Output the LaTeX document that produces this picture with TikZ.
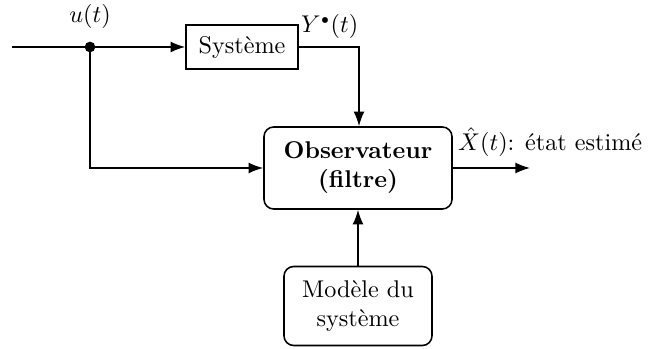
\documentclass[tikz,border=0pt]{standalone}
\usetikzlibrary{arrows.meta}
\begin{document}
\begin{tikzpicture}[x=0.4133pt,y=-0.4133pt,
  line width=0.65pt,
  arr/.style={-{Latex[length=6pt,width=4.5pt]}},
  sqbox/.style={draw,rectangle,inner sep=0pt,font=\normalsize},
  rbox/.style={draw,rectangle,rounded corners=4pt,inner sep=0pt,align=center}]
\useasboundingbox (0,0) rectangle (649,349);
\node[sqbox,minimum width=112*0.4133pt,minimum height=44*0.4133pt] (sys) at (242,47) {Système};
\node[rbox,minimum width=188*0.4133pt,minimum height=82*0.4133pt,font=\bfseries] (obs) at (358,168) {Observateur\\(filtre)};
\node[rbox,minimum width=148*0.4133pt,minimum height=79*0.4133pt] (mod) at (358,306) {Modèle du\\système};
\coordinate (in) at (12,47);
\coordinate (dot) at (90,47);
\coordinate (yc) at (359,47);
\coordinate (out) at (530,168);
\fill (dot) circle (2.2pt);
\node[anchor=south] (ul) at (90,37) {$u(t)$};
\node[anchor=south west,inner sep=1pt] (yl) at (298,42) {$Y^{\scriptscriptstyle\bullet}(t)$};
\node[anchor=south west,inner sep=1pt] (xl) at (455,160) {$\hat{X}(t)$: état estimé};
\draw (in) -- (dot);
\draw[arr] (dot) -- (sys.west);
\draw[arr] (sys.east) -- (yc) -- (obs.north -| yc);
\draw[arr] (dot) |- (obs.west);
\draw[arr] (obs.east) -- (out);
\draw[arr] (mod.north) -- (obs.south);
\end{tikzpicture}
\end{document}
